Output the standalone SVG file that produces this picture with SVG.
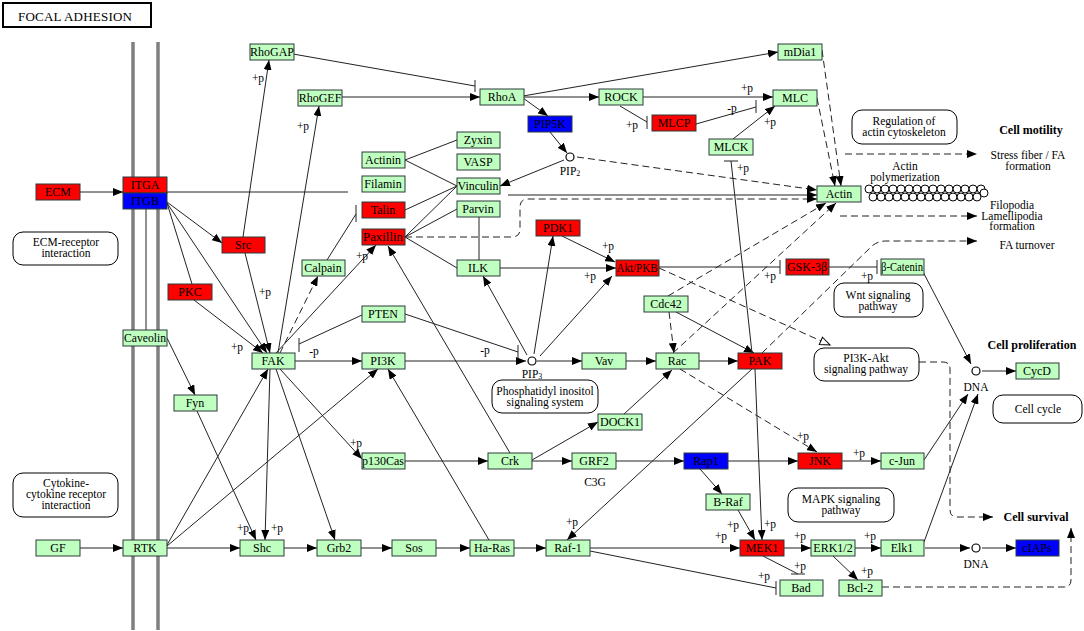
<svg xmlns="http://www.w3.org/2000/svg" width="1084" height="631" viewBox="0 0 1084 631">
<style>
text{font-family:"Liberation Serif","DejaVu Serif",serif;fill:#000}
.n rect{stroke:#2a3a3a;stroke-width:1}
.g{fill:#bfffbf}.r{fill:#ff0000}.b{fill:#0000ff}
.n text{font-size:12px;text-anchor:middle}
.m rect{fill:#fff;stroke:#000;stroke-width:1}
.m text{font-size:11.5px;text-anchor:middle}
.l{stroke:#222;stroke-width:1;fill:none}
.d{stroke-dasharray:7,4}
.lb{font-size:11.5px;text-anchor:middle}
.bo{font-size:12px;font-weight:bold;text-anchor:middle}
.c{fill:#fff;stroke:#000;stroke-width:1.2}
</style>
<defs>
<marker id="a" viewBox="0 0 10 8" refX="10" refY="4" markerWidth="10" markerHeight="8" markerUnits="userSpaceOnUse" orient="auto"><path d="M0,0 L10,4 L0,8z" fill="#000"/></marker>
<marker id="o" viewBox="0 0 12 10" refX="11" refY="5" markerWidth="12" markerHeight="10" markerUnits="userSpaceOnUse" orient="auto"><path d="M1,1 L11,5 L1,9z" fill="#fff" stroke="#000" stroke-width="1"/></marker>
</defs>
<rect width="1084" height="631" fill="#fff"/>
<g id="title"><rect x="3" y="3" width="148" height="24" fill="#fff" stroke="#000" stroke-width="2"/><text x="75" y="20.5" font-size="13" text-anchor="middle" textLength="114" lengthAdjust="spacing">FOCAL ADHESION</text></g>
<g id="membrane" stroke="#7f7f7f" stroke-width="3.5"><line x1="133" y1="42" x2="133" y2="630"/><line x1="158" y1="42" x2="158" y2="630"/></g>
<g id="connectors">
<line class="l" x1="80" y1="192" x2="123" y2="192" marker-end="url(#a)"/>
<line class="l" x1="167" y1="192" x2="348" y2="192" stroke="#444" stroke-width="1.5"/>
<line class="l" x1="508" y1="195" x2="817" y2="195" marker-end="url(#a)"/>
<line class="l" x1="167" y1="202" x2="222" y2="243" marker-end="url(#a)"/>
<line class="l" x1="167" y1="203" x2="192" y2="284"/>
<line class="l" x1="167" y1="203" x2="267" y2="353" marker-end="url(#a)"/>
<line class="l" x1="194" y1="300" x2="263" y2="353" marker-end="url(#a)"/>
<line class="l" x1="245" y1="253" x2="270" y2="353" marker-start="url(#a)" marker-end="url(#a)"/>
<line class="l" x1="243" y1="237" x2="269" y2="60" marker-end="url(#a)"/>
<line class="l" x1="278" y1="353" x2="319" y2="106" marker-end="url(#a)"/>
<line class="l d" x1="280" y1="353" x2="318" y2="276" marker-end="url(#a)"/>
<line class="l" x1="276" y1="353" x2="376" y2="245" marker-end="url(#a)"/>
<path class="l" d="M327,260 L356,214 M356,205 L356,222"/>
<path class="l" d="M362,315 L299,344 M299,338 L299,352"/>
<line class="l" x1="295" y1="361" x2="362" y2="361" marker-end="url(#a)"/>
<line class="l" x1="405" y1="361" x2="526" y2="361" marker-end="url(#a)"/>
<path class="l" d="M405,314 L518,352 M518,345 L518,359"/>
<line class="l" x1="537" y1="361" x2="582" y2="361" marker-end="url(#a)"/>
<line class="l" x1="626" y1="361" x2="656" y2="361" marker-end="url(#a)"/>
<line class="l" x1="699" y1="361" x2="738" y2="361" marker-end="url(#a)"/>
<line class="l" x1="527" y1="355" x2="483" y2="276" marker-end="url(#a)"/>
<line class="l" x1="534" y1="354" x2="553" y2="236" marker-end="url(#a)"/>
<line class="l" x1="540" y1="356" x2="612" y2="276" marker-end="url(#a)"/>
<line class="l" x1="499" y1="268" x2="616" y2="268" marker-end="url(#a)"/>
<line class="l" x1="562" y1="236" x2="615" y2="262" marker-end="url(#a)"/>
<path class="l" d="M659,267 L780,267 M780,260 L780,274"/>
<path class="l" d="M829,267 L877,267 M877,260 L877,274"/>
<line class="l" x1="921" y1="268" x2="971" y2="364" marker-end="url(#a)"/>
<line class="l" x1="982" y1="371" x2="1016" y2="371" marker-end="url(#a)"/>
<line class="l" x1="676" y1="312" x2="754" y2="353" marker-end="url(#a)"/>
<line class="l d" x1="669" y1="312" x2="674" y2="353" marker-end="url(#a)"/>
<line class="l d" x1="668" y1="296" x2="826" y2="203" marker-end="url(#a)"/>
<line class="l d" x1="673" y1="353" x2="836" y2="203" marker-end="url(#a)"/>
<path class="l d" d="M762,353 L871,247 Q877,241 886,241 L977,241" marker-end="url(#a)"/>
<line class="l d" x1="659" y1="268" x2="830" y2="345" marker-end="url(#o)"/>
<path class="l d" d="M919,362 L943,362 Q950,362 950,369 L950,510 Q950,517 957,517 L993,517" marker-end="url(#a)"/>
<path class="l d" d="M882,587 L1064,587 Q1071,587 1071,580 L1071,528" marker-end="url(#a)"/>
<line class="l d" x1="680" y1="369" x2="817" y2="452" marker-end="url(#a)"/>
<path class="l" d="M752,353 L731,161 M724,161 L738,161"/>
<line class="l" x1="755" y1="369" x2="762" y2="540" marker-end="url(#a)"/>
<line class="l" x1="752" y1="369" x2="567" y2="540" marker-end="url(#a)"/>
<line class="l" x1="624" y1="414" x2="672" y2="370" marker-end="url(#a)"/>
<line class="l" x1="532" y1="460" x2="598" y2="422" marker-end="url(#a)"/>
<line class="l" x1="510" y1="453" x2="388" y2="246" marker-end="url(#a)"/>
<line class="l" x1="405" y1="461" x2="488" y2="461" marker-end="url(#a)"/>
<line class="l" x1="532" y1="461" x2="572" y2="461" marker-end="url(#a)"/>
<line class="l" x1="616" y1="461" x2="684" y2="461" marker-end="url(#a)"/>
<line class="l" x1="728" y1="461" x2="798" y2="461" marker-end="url(#a)"/>
<line class="l" x1="842" y1="461" x2="881" y2="461" marker-end="url(#a)"/>
<line class="l" x1="924" y1="460" x2="968" y2="394" marker-end="url(#a)"/>
<line class="l" x1="924" y1="542" x2="978" y2="394" marker-end="url(#a)"/>
<line class="l" x1="700" y1="469" x2="722" y2="494" marker-end="url(#a)"/>
<line class="l" x1="738" y1="510" x2="755" y2="540" marker-end="url(#a)"/>
<line class="l" x1="590" y1="548" x2="740" y2="548" marker-end="url(#a)"/>
<line class="l" x1="784" y1="548" x2="811" y2="548" marker-end="url(#a)"/>
<line class="l" x1="855" y1="548" x2="881" y2="548" marker-end="url(#a)"/>
<line class="l" x1="925" y1="548" x2="970" y2="548" marker-end="url(#a)"/>
<line class="l" x1="982" y1="548" x2="1016" y2="548" marker-end="url(#a)"/>
<path class="l" d="M763,556 L798,574 M791,574 L805,574"/>
<path class="l" d="M590,551 L776,588 M776,581 L776,595"/>
<line class="l" x1="833" y1="556" x2="858" y2="580" marker-end="url(#a)"/>
<line class="l" x1="80" y1="548" x2="123" y2="548" marker-end="url(#a)"/>
<line class="l" x1="167" y1="548" x2="240" y2="548" marker-end="url(#a)"/>
<line class="l" x1="284" y1="548" x2="317" y2="548" marker-end="url(#a)"/>
<line class="l" x1="361" y1="548" x2="392" y2="548" marker-end="url(#a)"/>
<line class="l" x1="436" y1="548" x2="470" y2="548" marker-end="url(#a)"/>
<line class="l" x1="514" y1="548" x2="546" y2="548" marker-end="url(#a)"/>
<line class="l" x1="489" y1="540" x2="388" y2="369" marker-end="url(#a)"/>
<line class="l" x1="167" y1="545" x2="268" y2="369" marker-end="url(#a)"/>
<line class="l" x1="167" y1="546" x2="378" y2="369" marker-end="url(#a)"/>
<line class="l" x1="270" y1="369" x2="265" y2="540" marker-end="url(#a)"/>
<line class="l" x1="197" y1="411" x2="256" y2="540" marker-end="url(#a)"/>
<line class="l" x1="276" y1="369" x2="335" y2="540" marker-end="url(#a)"/>
<line class="l" x1="280" y1="369" x2="362" y2="459" marker-end="url(#a)"/>
<line class="l" x1="167" y1="338" x2="195" y2="395" marker-end="url(#a)"/>
<line class="l" x1="146" y1="209" x2="146" y2="330" stroke="#444" stroke-width="1.5"/>
<path class="l" d="M293,54 L475,86 M475,80 L475,92"/>
<line class="l" x1="342" y1="97" x2="480" y2="97" marker-end="url(#a)"/>
<line class="l" x1="523" y1="97" x2="599" y2="97" marker-end="url(#a)"/>
<line class="l" x1="523" y1="96" x2="778" y2="52" marker-end="url(#a)"/>
<line class="l" x1="523" y1="98" x2="548" y2="116" marker-end="url(#a)"/>
<line class="l" x1="550" y1="132" x2="567" y2="153" marker-end="url(#a)"/>
<line class="l" x1="564" y1="160" x2="500" y2="186" marker-end="url(#a)"/>
<line class="l d" x1="577" y1="157" x2="817" y2="190" marker-end="url(#a)"/>
<path class="l d" d="M405,237 L512,237 Q520,237 520,229 L520,207 Q520,199 528,199 L817,199" marker-end="url(#a)"/>
<path class="l" d="M620,106 L647,122 M647,116 L647,129"/>
<line class="l" x1="643" y1="97" x2="773" y2="97" marker-end="url(#a)"/>
<path class="l" d="M696,124 L756,107 M756,100 L756,113"/>
<line class="l" x1="733" y1="139" x2="775" y2="106" marker-end="url(#a)"/>
<line class="l d" x1="822" y1="50" x2="841" y2="186" marker-end="url(#a)"/>
<line class="l d" x1="817" y1="98" x2="835" y2="186" marker-end="url(#a)"/>
<line class="l d" x1="845" y1="154" x2="977" y2="154" marker-end="url(#a)"/>
<line class="l d" x1="840" y1="216" x2="977" y2="216" marker-end="url(#a)"/>
<line class="l" x1="405" y1="160" x2="457" y2="140"/>
<line class="l" x1="405" y1="160" x2="457" y2="186"/>
<line class="l" x1="405" y1="210" x2="457" y2="186"/>
<line class="l" x1="405" y1="237" x2="457" y2="186"/>
<line class="l" x1="405" y1="237" x2="457" y2="209"/>
<line class="l" x1="405" y1="237" x2="457" y2="268"/>
<line class="l" x1="479" y1="217" x2="479" y2="260"/>
</g>
<g id="edge-labels" class="lb">
<text x="258" y="82">+p</text><text x="303" y="130">+p</text><text x="265" y="296">+p</text><text x="237" y="351">+p</text>
<text x="314" y="355">-p</text><text x="362" y="260">+p</text><text x="356" y="447">+p</text><text x="243" y="532">+p</text>
<text x="277" y="532">+p</text><text x="485" y="354">-p</text><text x="608" y="250">+p</text><text x="590" y="280">+p</text>
<text x="770" y="280">+p</text><text x="867" y="280">+p</text><text x="632" y="129">+p</text><text x="747" y="92">+p</text>
<text x="732" y="112">-p</text><text x="770" y="126">+p</text><text x="743" y="172">+p</text><text x="803" y="440">+p</text>
<text x="859" y="457">+p</text><text x="733" y="529">+p</text><text x="770" y="528">+p</text><text x="721" y="540">+p</text>
<text x="800" y="540">+p</text><text x="870" y="540">+p</text><text x="800" y="570">+p</text><text x="764" y="580">+p</text>
<text x="867" y="575">+p</text><text x="572" y="526">+p</text>
</g>
<g id="compounds">
<circle class="c" cx="570" cy="157" r="4"/><text class="lb" x="570" y="175">PIP<tspan font-size="8" dy="1">2</tspan></text>
<circle class="c" cx="532" cy="361" r="4"/><text class="lb" x="532" y="378">PIP<tspan font-size="8" dy="1">3</tspan></text>
<circle class="c" cx="976" cy="371" r="4"/><text class="lb" x="976" y="391">DNA</text>
<circle class="c" cx="976" cy="548" r="4"/><text class="lb" x="976" y="568">DNA</text>
</g>
<g id="actin-polymer" fill="#fff" stroke="#000" stroke-width="1">
<circle cx="869" cy="189" r="4"/><circle cx="877" cy="189" r="4"/><circle cx="885" cy="189" r="4"/><circle cx="893" cy="189" r="4"/><circle cx="901" cy="189" r="4"/><circle cx="909" cy="189" r="4"/><circle cx="917" cy="189" r="4"/><circle cx="925" cy="189" r="4"/><circle cx="933" cy="189" r="4"/><circle cx="941" cy="189" r="4"/><circle cx="949" cy="189" r="4"/><circle cx="957" cy="189" r="4"/><circle cx="965" cy="189" r="4"/><circle cx="973" cy="189" r="4"/><circle cx="981" cy="189" r="4"/>
<circle cx="873" cy="197" r="4"/><circle cx="881" cy="197" r="4"/><circle cx="889" cy="197" r="4"/><circle cx="897" cy="197" r="4"/><circle cx="905" cy="197" r="4"/><circle cx="913" cy="197" r="4"/><circle cx="921" cy="197" r="4"/><circle cx="929" cy="197" r="4"/><circle cx="937" cy="197" r="4"/><circle cx="945" cy="197" r="4"/><circle cx="953" cy="197" r="4"/><circle cx="961" cy="197" r="4"/><circle cx="969" cy="197" r="4"/><circle cx="977" cy="197" r="4"/><circle cx="984" cy="193" r="4"/>
</g>
<g id="outcome-labels">
<text class="lb" x="905" y="170">Actin</text><text class="lb" x="905" y="181">polymerization</text>
<text class="bo" x="1031" y="134">Cell motility</text>
<text class="lb" x="1028" y="159">Stress fiber / FA</text><text class="lb" x="1028" y="170">formation</text>
<text class="lb" x="1012" y="209">Filopodia</text><text class="lb" x="1012" y="220">Lamellipodia</text><text class="lb" x="1012" y="230">formation</text>
<text class="lb" x="1027" y="249">FA turnover</text>
<text class="bo" x="1032" y="349">Cell proliferation</text>
<text class="bo" x="1036" y="521">Cell survival</text>
<text class="lb" x="595" y="486">C3G</text>
</g>
<g id="maps" class="m">
<g id="m-ecm"><rect x="13" y="232" width="105" height="33" rx="10"/><text x="66" y="246">ECM-receptor</text><text x="66" y="257">interaction</text></g>
<g id="m-cyt"><rect x="13" y="473" width="105" height="44" rx="10"/><text x="66" y="487">Cytokine-</text><text x="66" y="498">cytokine receptor</text><text x="66" y="509">interaction</text></g>
<g id="m-reg"><rect x="852" y="110" width="105" height="34" rx="10"/><text x="904" y="125">Regulation of</text><text x="904" y="136">actin cytoskeleton</text></g>
<g id="m-wnt"><rect x="834" y="283" width="89" height="34" rx="10"/><text x="878" y="299">Wnt signaling</text><text x="878" y="310">pathway</text></g>
<g id="m-pi3k"><rect x="814" y="348" width="105" height="33" rx="10"/><text x="866" y="362">PI3K-Akt</text><text x="866" y="373">signaling pathway</text></g>
<g id="m-pis"><rect x="492" y="380" width="106" height="33" rx="10"/><text x="545" y="395">Phosphatidyl inositol</text><text x="545" y="406">signaling system</text></g>
<g id="m-cc"><rect x="993" y="395" width="89" height="28" rx="10"/><text x="1038" y="413">Cell cycle</text></g>
<g id="m-mapk"><rect x="788" y="488" width="106" height="34" rx="10"/><text x="841" y="503">MAPK signaling</text><text x="841" y="514">pathway</text></g>
</g>
<g id="nodes" class="n">
<g id="ECM"><rect class="r" x="36" y="184" width="44" height="16"/><text x="58" y="196">ECM</text></g>
<g id="ITGA"><rect class="r" x="123" y="177" width="44" height="16"/><text x="145" y="189">ITGA</text></g>
<g id="ITGB"><rect class="b" x="123" y="193" width="44" height="16"/><text x="145" y="205">ITGB</text></g>
<g id="RhoGAP"><rect class="g" x="250" y="44" width="44" height="16"/><text x="272" y="56">RhoGAP</text></g>
<g id="RhoGEF"><rect class="g" x="298" y="90" width="44" height="16"/><text x="320" y="102">RhoGEF</text></g>
<g id="RhoA"><rect class="g" x="480" y="89" width="44" height="16"/><text x="502" y="101">RhoA</text></g>
<g id="PIP5K"><rect class="b" x="528" y="116" width="44" height="16"/><text x="550" y="128">PIP5K</text></g>
<g id="ROCK"><rect class="g" x="599" y="89" width="44" height="16"/><text x="621" y="101">ROCK</text></g>
<g id="MLCP"><rect class="r" x="652" y="115" width="44" height="16"/><text x="674" y="127">MLCP</text></g>
<g id="mDia1"><rect class="g" x="778" y="44" width="44" height="16"/><text x="800" y="56">mDia1</text></g>
<g id="MLC"><rect class="g" x="773" y="90" width="44" height="16"/><text x="795" y="102">MLC</text></g>
<g id="MLCK"><rect class="g" x="709" y="139" width="44" height="16"/><text x="731" y="151">MLCK</text></g>
<g id="Actin"><rect class="g" x="817" y="186" width="44" height="16"/><text x="839" y="198">Actin</text></g>
<g id="Zyxin"><rect class="g" x="457" y="132" width="43" height="16"/><text x="478" y="144">Zyxin</text></g>
<g id="VASP"><rect class="g" x="457" y="154" width="43" height="16"/><text x="478" y="166">VASP</text></g>
<g id="Actinin"><rect class="g" x="362" y="152" width="43" height="16"/><text x="383" y="164">Actinin</text></g>
<g id="Filamin"><rect class="g" x="362" y="176" width="43" height="16"/><text x="383" y="188">Filamin</text></g>
<g id="Vinculin"><rect class="g" x="457" y="178" width="43" height="16"/><text x="478" y="190" textLength="41" lengthAdjust="spacingAndGlyphs">Vinculin</text></g>
<g id="Talin"><rect class="r" x="362" y="202" width="43" height="16"/><text x="383" y="214">Talin</text></g>
<g id="Parvin"><rect class="g" x="457" y="201" width="43" height="16"/><text x="478" y="213">Parvin</text></g>
<g id="Paxillin"><rect class="r" x="362" y="229" width="43" height="16"/><text x="383" y="241" textLength="40" lengthAdjust="spacingAndGlyphs">Paxillin</text></g>
<g id="PDK1"><rect class="r" x="536" y="220" width="44" height="16"/><text x="558" y="232">PDK1</text></g>
<g id="ILK"><rect class="g" x="457" y="260" width="43" height="16"/><text x="478" y="272">ILK</text></g>
<g id="AktPKB"><rect class="r" x="616" y="260" width="43" height="16"/><text x="637" y="272" textLength="41" lengthAdjust="spacingAndGlyphs">Akt/PKB</text></g>
<g id="GSK3b"><rect class="r" x="786" y="259" width="43" height="16"/><text x="807" y="271">GSK-3β</text></g>
<g id="bCatenin"><rect class="g" x="881" y="259" width="43" height="16"/><text x="902" y="271" textLength="42" lengthAdjust="spacingAndGlyphs">β-Catenin</text></g>
<g id="Src"><rect class="r" x="222" y="237" width="43" height="16"/><text x="243" y="249">Src</text></g>
<g id="Calpain"><rect class="g" x="302" y="260" width="43" height="16"/><text x="323" y="272">Calpain</text></g>
<g id="PKC"><rect class="r" x="168" y="284" width="44" height="16"/><text x="190" y="296">PKC</text></g>
<g id="Caveolin"><rect class="g" x="123" y="330" width="44" height="16"/><text x="145" y="342" textLength="42" lengthAdjust="spacingAndGlyphs">Caveolin</text></g>
<g id="Cdc42"><rect class="g" x="644" y="296" width="44" height="16"/><text x="666" y="308">Cdc42</text></g>
<g id="PTEN"><rect class="g" x="362" y="306" width="43" height="16"/><text x="383" y="318">PTEN</text></g>
<g id="PI3K"><rect class="g" x="362" y="353" width="43" height="16"/><text x="383" y="365">PI3K</text></g>
<g id="FAK"><rect class="g" x="252" y="353" width="43" height="16"/><text x="273" y="365">FAK</text></g>
<g id="Vav"><rect class="g" x="582" y="353" width="44" height="16"/><text x="604" y="365">Vav</text></g>
<g id="Rac"><rect class="g" x="656" y="353" width="43" height="16"/><text x="677" y="365">Rac</text></g>
<g id="PAK"><rect class="r" x="738" y="353" width="44" height="16"/><text x="760" y="365">PAK</text></g>
<g id="Fyn"><rect class="g" x="174" y="395" width="43" height="16"/><text x="195" y="407">Fyn</text></g>
<g id="DOCK1"><rect class="g" x="598" y="414" width="44" height="16"/><text x="620" y="426">DOCK1</text></g>
<g id="p130Cas"><rect class="g" x="362" y="453" width="43" height="16"/><text x="383" y="465" textLength="42" lengthAdjust="spacingAndGlyphs">p130Cas</text></g>
<g id="Crk"><rect class="g" x="488" y="453" width="44" height="16"/><text x="510" y="465">Crk</text></g>
<g id="GRF2"><rect class="g" x="572" y="453" width="44" height="16"/><text x="594" y="465">GRF2</text></g>
<g id="Rap1"><rect class="b" x="684" y="453" width="44" height="16"/><text x="706" y="465">Rap1</text></g>
<g id="JNK"><rect class="r" x="798" y="453" width="44" height="16"/><text x="820" y="465">JNK</text></g>
<g id="cJun"><rect class="g" x="881" y="453" width="43" height="16"/><text x="902" y="465">c-Jun</text></g>
<g id="BRaf"><rect class="g" x="706" y="494" width="44" height="16"/><text x="728" y="506">B-Raf</text></g>
<g id="CycD"><rect class="g" x="1016" y="363" width="43" height="16"/><text x="1037" y="375">CycD</text></g>
<g id="GF"><rect class="g" x="36" y="540" width="44" height="16"/><text x="58" y="552">GF</text></g>
<g id="RTK"><rect class="g" x="123" y="540" width="44" height="16"/><text x="145" y="552">RTK</text></g>
<g id="Shc"><rect class="g" x="240" y="540" width="44" height="16"/><text x="262" y="552">Shc</text></g>
<g id="Grb2"><rect class="g" x="317" y="540" width="44" height="16"/><text x="339" y="552">Grb2</text></g>
<g id="Sos"><rect class="g" x="392" y="540" width="44" height="16"/><text x="414" y="552">Sos</text></g>
<g id="HaRas"><rect class="g" x="470" y="540" width="44" height="16"/><text x="492" y="552">Ha-Ras</text></g>
<g id="Raf1"><rect class="g" x="546" y="540" width="44" height="16"/><text x="568" y="552">Raf-1</text></g>
<g id="MEK1"><rect class="r" x="740" y="540" width="44" height="16"/><text x="762" y="552">MEK1</text></g>
<g id="ERK12"><rect class="g" x="811" y="540" width="44" height="16"/><text x="833" y="552">ERK1/2</text></g>
<g id="Elk1"><rect class="g" x="881" y="540" width="43" height="16"/><text x="902" y="552">Elk1</text></g>
<g id="cIAPs"><rect class="b" x="1016" y="540" width="43" height="16"/><text x="1037" y="552">cIAPs</text></g>
<g id="Bad"><rect class="g" x="780" y="580" width="43" height="16"/><text x="801" y="592">Bad</text></g>
<g id="Bcl2"><rect class="g" x="839" y="580" width="43" height="16"/><text x="860" y="592">Bcl-2</text></g>
</g>
</svg>
